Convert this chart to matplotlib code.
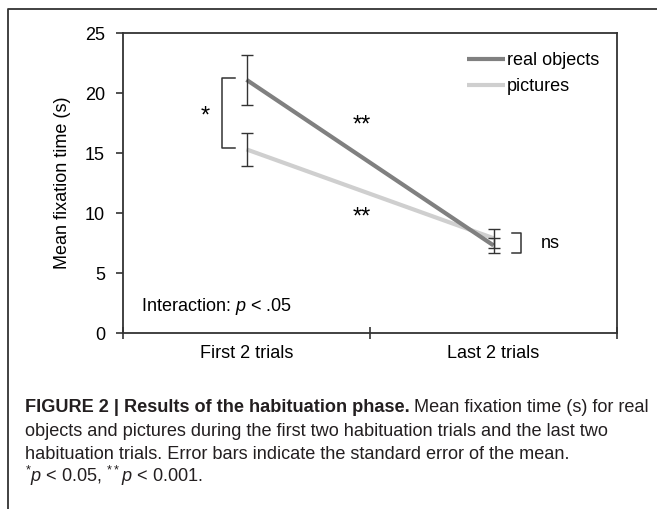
import matplotlib
matplotlib.use("Agg")
import matplotlib.pyplot as plt
from matplotlib.lines import Line2D

plt.rcParams['font.family'] = ['Liberation Sans', 'DejaVu Sans']
plt.rcParams['mathtext.fontset'] = 'custom'
plt.rcParams['mathtext.rm'] = 'Liberation Sans'
plt.rcParams['mathtext.it'] = 'Liberation Sans:italic'

categories = ["First 2 trials", "Last 2 trials"]
real_objects = [21.1, 7.3]
real_se = [2.1, 0.6]
pictures = [15.3, 7.9]
pictures_se = [1.4, 0.8]
yticks = [0, 5, 10, 15, 20, 25]

fig = plt.figure(figsize=(6.57, 5.09), dpi=100)
ax = fig.add_axes([123/657, 1-333/509, 494/657, 300/509])

x = list(range(len(categories)))
ax.plot(x, real_objects, color="#808080", lw=3, label="real objects", solid_capstyle="butt", zorder=3)
ax.plot(x, pictures, color="#cfcfcf", lw=3, label="pictures", solid_capstyle="butt", zorder=2)
ax.errorbar(x, real_objects, yerr=real_se, fmt="none", ecolor="#333333", elinewidth=1, capsize=4.5, capthick=1, zorder=4)
ax.errorbar(x, pictures, yerr=pictures_se, fmt="none", ecolor="#333333", elinewidth=1, capsize=4.5, capthick=1, zorder=4)

ax.set_xlim(-0.5, 1.5)
ax.set_ylim(0, 25)
ax.set_yticks(yticks)
ax.set_xticks([-0.5, 0.5, 1.5])
ax.set_xticklabels([])
ax.set_xticks(x, minor=True)
ax.set_xticklabels(categories, minor=True, fontsize=13)
ax.tick_params(axis="x", which="minor", length=0, pad=9)
ax.tick_params(axis="x", which="major", direction="inout", length=8, width=1.2, color="#333333")
ax.tick_params(axis="y", direction="out", length=5, width=1.2, color="#333333", labelsize=13, pad=8)
for s in ax.spines.values():
    s.set_color("#333333")
    s.set_linewidth(1.3)
ax.set_ylabel("Mean fixation time (s)", fontsize=13, labelpad=10)

leg = ax.legend(loc="upper left", bbox_to_anchor=(0.696, 0.937), frameon=False, fontsize=13,
                handlelength=2.1, handletextpad=0.1, borderpad=0, borderaxespad=0, labelspacing=0.5)

# significance brackets
bk = dict(color="#333333", lw=1.1)
ax.plot([-0.047, -0.099, -0.099, -0.047], [21.25, 21.25, 15.4, 15.4], **bk)
ax.text(-0.168, 18.0, "*", fontsize=17, ha="center", va="center")
ax.text(0.468, 17.3, "**", fontsize=17, ha="center", va="center")
ax.text(0.468, 9.6, "**", fontsize=17, ha="center", va="center")
ax.plot([1.075, 1.111, 1.111, 1.075], [8.33, 8.33, 6.67, 6.67], **bk)
ax.text(1.19, 7.5, "ns", fontsize=13, ha="left", va="center")
ax.text(-0.428, 2.17, r"Interaction: $p$ < .05", fontsize=13, ha="left", va="center")

# figure box
fig.add_artist(Line2D([8/657, 8/657, 1], [0, 1-9/509, 1-9/509], transform=fig.transFigure, color="#333333", lw=1.3))

# caption
cap_fs = 13.1
y0 = 1 - 412/509
dy = 23.5/509
tb = fig.text(25/657, y0, "FIGURE 2 | Results of the habituation phase.", fontsize=cap_fs,
              fontweight="bold", va="baseline", color="#231f20")
fig.canvas.draw()
bb = tb.get_window_extent()
fig.text((bb.x1 + 4)/657, y0, "Mean fixation time (s) for real", fontsize=cap_fs, va="baseline", color="#231f20")
fig.text(25/657, y0 - dy, "objects and pictures during the first two habituation trials and the last two",
         fontsize=cap_fs, va="baseline", color="#231f20")
fig.text(25/657, y0 - 2*dy, "habituation trials. Error bars indicate the standard error of the mean.",
         fontsize=cap_fs, va="baseline", color="#231f20")
fig.text(25/657, y0 - 3*dy, r"$^{*}p$ < 0.05, $^{**}p$ < 0.001.", fontsize=cap_fs, va="baseline", color="#231f20")

fig.savefig("out.png", dpi=100)
